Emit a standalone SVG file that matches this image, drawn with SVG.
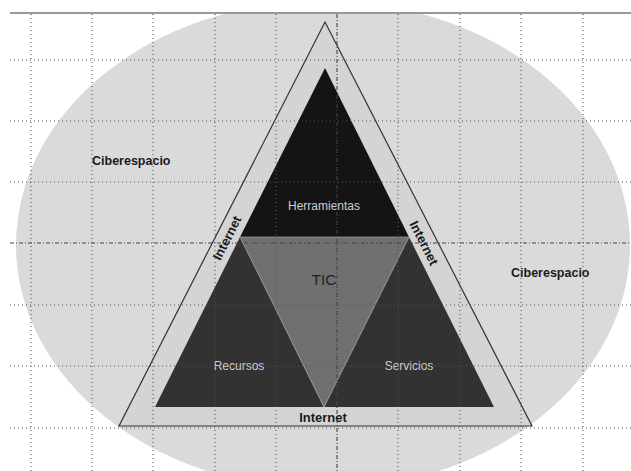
<svg xmlns="http://www.w3.org/2000/svg" width="631" height="471" viewBox="0 0 631 471">
  <style>
    .grid { stroke: #555; stroke-width: 1.1; stroke-dasharray: 1 3; fill: none; }
    .gridc { stroke: #444; stroke-width: 1.1; stroke-dasharray: 4 2 1 2; fill: none; }
    .lbl { font-family: "Liberation Sans", Arial, sans-serif; }
    .dark { font-size: 12.5px; font-weight: bold; fill: #1a1a1a; }
    .inet { font-size: 13px; font-weight: bold; fill: #1a1a1a; text-anchor: middle; }
    .light { font-size: 12px; fill: #cfcfcf; text-anchor: middle; }
  </style>
  <defs>
    <clipPath id="belowLine"><rect x="0" y="13" width="631" height="458"/></clipPath>
  </defs>
  <rect x="0" y="0" width="631" height="471" fill="#ffffff"/>

  <g id="ciberespacio">
    <ellipse cx="323" cy="245" rx="307" ry="244" fill="#dadada" clip-path="url(#belowLine)"/>
    <text class="lbl dark" x="92" y="165">Ciberespacio</text>
    <text class="lbl dark" x="511" y="277">Ciberespacio</text>
  </g>

  <g id="internet">
    <polygon points="325,22 532,426 119,426" fill="#d4d4d4" stroke="#333" stroke-width="1.2"/>
    <text class="lbl inet" x="323" y="422">Internet</text>
    <text class="lbl inet" transform="translate(227,238) rotate(-63)" y="4.5">Internet</text>
    <text class="lbl inet" transform="translate(424,243) rotate(63)" y="4.5">Internet</text>
  </g>

  <g id="herramientas">
    <polygon points="325,68 409,237 240,237" fill="#141414"/>
    <text class="lbl light" x="324" y="210">Herramientas</text>
  </g>

  <g id="recursos">
    <polygon points="240,237 324,407 155,407" fill="#323232"/>
    <text class="lbl light" x="239" y="370">Recursos</text>
  </g>

  <g id="servicios">
    <polygon points="409,237 494,407 324,407" fill="#323232"/>
    <text class="lbl light" x="409" y="370">Servicios</text>
  </g>

  <g id="tic">
    <polygon points="240,237 409,237 324,407" fill="#707070" stroke="#9a9a9a" stroke-width="0.8"/>
    <text class="lbl" x="324" y="285" font-size="15.5" fill="#222" text-anchor="middle">TIC</text>
  </g>

  <g id="connectors">
    <line x1="10" y1="13" x2="631" y2="13" stroke="#999" stroke-width="2"/>
    <g id="grid-v">
      <line class="grid" x1="31" y1="14" x2="31" y2="471"/>
      <line class="grid" x1="92" y1="14" x2="92" y2="471"/>
      <line class="grid" x1="153" y1="14" x2="153" y2="471"/>
      <line class="grid" x1="215" y1="14" x2="215" y2="471"/>
      <line class="grid" x1="276" y1="14" x2="276" y2="471"/>
      <line class="gridc" x1="337" y1="14" x2="337" y2="471"/>
      <line class="grid" x1="398" y1="14" x2="398" y2="471"/>
      <line class="grid" x1="460" y1="14" x2="460" y2="471"/>
      <line class="grid" x1="521" y1="14" x2="521" y2="471"/>
      <line class="grid" x1="583" y1="14" x2="583" y2="471"/>
    </g>
    <g id="grid-h">
      <line class="grid" x1="10" y1="60" x2="631" y2="60"/>
      <line class="grid" x1="10" y1="121" x2="631" y2="121"/>
      <line class="grid" x1="10" y1="182" x2="631" y2="182"/>
      <line class="gridc" x1="10" y1="243" x2="631" y2="243"/>
      <line class="grid" x1="10" y1="305" x2="631" y2="305"/>
      <line class="grid" x1="10" y1="366" x2="631" y2="366"/>
      <line class="grid" x1="10" y1="428" x2="631" y2="428"/>
    </g>
  </g>
</svg>
